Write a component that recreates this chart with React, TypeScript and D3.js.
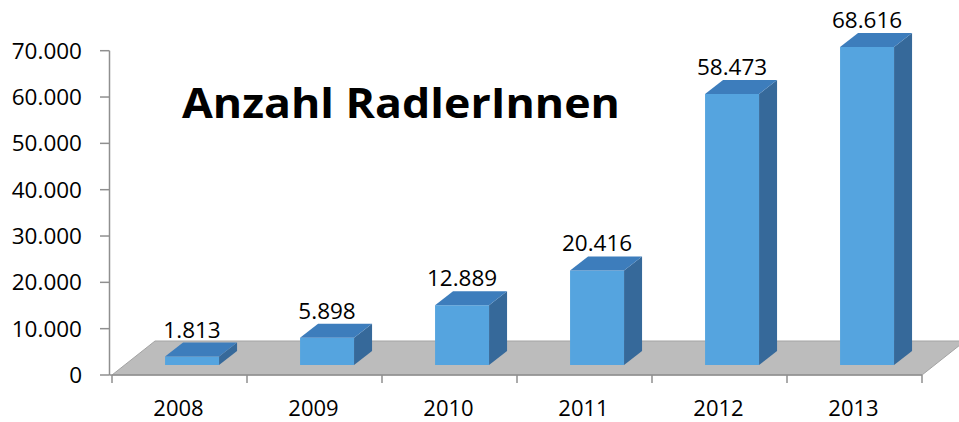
import React from "react";
import * as d3 from "d3";

const years = ["2008", "2009", "2010", "2011", "2012", "2013"];
const riders = [1813, 5898, 12889, 20416, 58473, 68616];
const yTicks = [0, 10000, 20000, 30000, 40000, 50000, 60000, 70000];
const title = "Anzahl RadlerInnen";

const W = 959;
const H = 422;

const de = d3.formatLocale({ decimal: ",", thousands: ".", grouping: [3], currency: ["", "€"] });
const fmt = de.format(",");

export default function App() {
  const x = d3.scaleBand<string>().domain(years).range([112, 922]).paddingInner(0).paddingOuter(0);
  const y = d3.scaleLinear().domain([0, 70000]).range([375, 50.7]);
  const y0 = y(0);
  const floorDx = 43;
  const floorDy = -34;
  const barFrontShift = 10; // bar front base sits above floor front edge
  const barDx = 18;
  const barDy = -14;
  const bw = x.bandwidth();
  const barW = bw * 0.4;
  const barOff = bw * 0.393;
  const font = "'Open Sans', sans-serif";

  const floor = [
    [x.range()[0], y0],
    [x.range()[1], y0],
    [x.range()[1] + floorDx, y0 + floorDy],
    [x.range()[0] + floorDx, y0 + floorDy],
  ];

  return (
    <svg width={W} height={H} style={{ position: "absolute", left: 0, top: 0, background: "#fff" }}>
      <polygon points={floor.map((p) => p.join(",")).join(" ")} fill="#bcbcbc" stroke="#a3a3a3" strokeWidth={1} />
      {years.map((yr, i) => {
        const v = riders[i];
        const xl = (x(yr) as number) + barOff;
        const xr = xl + barW;
        const yb = y0 - barFrontShift;
        const yt = yb - (y0 - y(v));
        const front = `${xl},${yt} ${xr},${yt} ${xr},${yb} ${xl},${yb}`;
        const side = `${xr},${yt} ${xr + barDx},${yt + barDy} ${xr + barDx},${yb + barDy} ${xr},${yb}`;
        const top = `${xl},${yt} ${xl + barDx},${yt + barDy} ${xr + barDx},${yt + barDy} ${xr},${yt}`;
        return (
          <g key={yr}>
            <polygon points={front} fill="#55a4df" />
            <polygon points={side} fill="#36699a" />
            <polygon points={top} fill="#3d7dbc" />
            <text
              x={(xl + xr) / 2}
              y={yt + barDy - 5}
              textAnchor="middle"
              fontFamily={font}
              fontSize={22.5}
              fill="#000"
            >
              {fmt(v)}
            </text>
          </g>
        );
      })}
      {/* y axis */}
      <line x1={109.5} x2={109.5} y1={y(70000)} y2={y0} stroke="#8f8f8f" strokeWidth={1.5} />
      {yTicks.map((t) => (
        <g key={t}>
          <line x1={100} x2={109.5} y1={y(t)} y2={y(t)} stroke="#8f8f8f" strokeWidth={1.5} />
          <text x={82} y={y(t)} dy="0.35em" textAnchor="end" fontFamily={font} fontSize={22.5} fill="#000">
            {fmt(t)}
          </text>
        </g>
      ))}
      {/* x axis */}
      <line x1={109.5} x2={x.range()[1]} y1={y0} y2={y0} stroke="#8f8f8f" strokeWidth={1.5} />
      {[...years.map((yr) => x(yr) as number), x.range()[1]].map((p, i) => (
        <line key={i} x1={p} x2={p} y1={y0} y2={y0 + 8} stroke="#8f8f8f" strokeWidth={1.5} />
      ))}
      {years.map((yr) => (
        <text
          key={yr}
          x={(x(yr) as number) + bw / 2 - 1}
          y={415.5}
          textAnchor="middle"
          fontFamily={font}
          fontSize={22}
          fill="#000"
        >
          {yr}
        </text>
      ))}
      <text
        x={182}
        y={118}
        fontFamily={font}
        fontWeight="bold"
        fontSize={42}
        textLength={438}
        lengthAdjust="spacingAndGlyphs"
        fill="#000"
      >
        {title}
      </text>
    </svg>
  );
}
